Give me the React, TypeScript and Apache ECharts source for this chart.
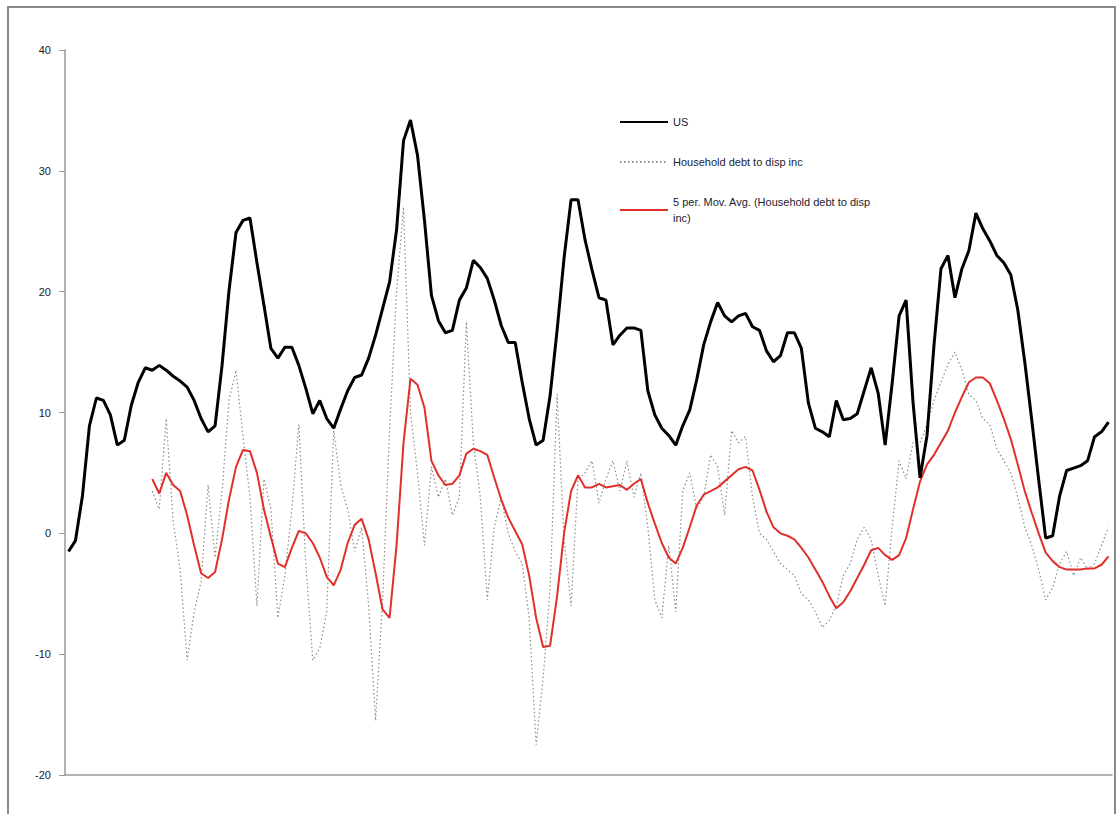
import React, { useEffect, useRef } from "react";
import * as echarts from "echarts";

const usValues: (number | null)[] = [
  -1.5, -0.6, 3.1, 8.9, 11.2, 11.0, 9.8, 7.3, 7.7, 10.6,
  12.5, 13.7, 13.5, 13.9, 13.5, 13.0, 12.6, 12.1, 11.0, 9.5,
  8.4, 8.9, 13.9, 20.1, 24.9, 25.9, 26.1, 22.4, 18.9, 15.3,
  14.5, 15.4, 15.4, 13.9, 12.0, 9.9, 11.0, 9.5, 8.7, 10.3,
  11.8, 12.9, 13.1, 14.5, 16.4, 18.6, 20.8, 25.1, 32.5, 34.2,
  31.3, 25.9, 19.7, 17.6, 16.6, 16.8, 19.3, 20.3, 22.6, 22.0,
  21.1, 19.3, 17.2, 15.8, 15.8, 12.5, 9.5, 7.3, 7.7, 11.4,
  16.8, 22.8, 27.6, 27.6, 24.3, 21.8, 19.5, 19.3, 15.6, 16.4,
  17.0, 17.0, 16.8, 11.8, 9.8, 8.7, 8.1, 7.3, 8.9, 10.2,
  12.7, 15.6, 17.5, 19.1, 18.0, 17.5, 18.0, 18.2, 17.1, 16.8,
  15.1, 14.2, 14.7, 16.6, 16.6, 15.3, 10.8, 8.7, 8.4, 8.0,
  11.0, 9.4, 9.5, 9.9, 11.8, 13.7, 11.6, 7.3, 12.4, 18.0,
  19.3, 10.8, 4.6, 8.1, 15.6, 21.9, 23.0, 19.5, 21.9, 23.4,
  26.5, 25.2, 24.2, 23.0, 22.4, 21.4, 18.5, 14.2, 9.4, 4.4,
  -0.4, -0.2, 3.1, 5.2, 5.4, 5.6, 6.0, 8.0, 8.4, 9.2,
];

const debtValues: (number | null)[] = [
  null, null, null, null, null, null, null, null, null, null,
  null, null, 3.5, 2.0, 9.5, 1.0, -3.0, -10.5, -6.5, -4.0,
  4.0, -2.0, 3.5, 11.0, 13.5, 8.0, 3.0, -6.0, 4.5, 2.0,
  -7.0, -3.5, 2.0, 9.0, -2.5, -10.5, -9.5, -6.5, 8.5, 4.0,
  2.0, -1.5, 0.5, -6.0, -15.5, -5.5, 8.5, 20.0, 27.0, 10.0,
  5.0, -1.0, 5.5, 3.0, 4.5, 1.5, 3.0, 17.5, 7.5, 3.0,
  -5.5, 0.5, 3.0, 0.0, -1.5, -2.5, -7.0, -17.5, -12.0, -4.5,
  11.5, -0.5, -6.0, 4.5, 5.0, 6.0, 2.5, 4.5, 6.0, 3.5,
  6.0, 3.0, 5.0, 0.5, -5.5, -7.0, -1.0, -6.5, 3.5, 5.0,
  2.0, 3.0, 6.5, 5.5, 1.5, 8.5, 7.5, 8.0, 3.0, 0.0,
  -0.5, -1.5, -2.5, -3.0, -3.5, -5.0, -5.5, -6.5, -7.8, -7.2,
  -6.0, -3.5, -2.5, -0.5, 0.5, -0.5, -3.5, -6.0, 0.5, 6.0,
  4.5, 7.5, 7.5, 9.0, 11.0, 12.5, 14.0, 15.0, 13.5, 11.5,
  11.0, 9.5, 9.0, 7.0, 6.0, 5.0, 3.0, 0.5, -1.0, -3.0,
  -5.5, -4.5, -2.5, -1.5, -3.5, -2.0, -3.0, -2.5, -1.0, 0.5,
];

const maValues: (number | null)[] = [
  null, null, null, null, null, null, null, null, null, null,
  null, null, 4.5, 3.3, 5.0, 4.0, 3.5, 1.5, -1.0, -3.3,
  -3.7, -3.2, -0.5, 2.8, 5.5, 6.9, 6.8, 5.0, 2.0, -0.3,
  -2.5, -2.8, -1.2, 0.2, 0.0, -0.8, -2.0, -3.6, -4.3, -3.0,
  -0.8, 0.7, 1.2, -0.5, -3.3, -6.3, -7.0, -1.0, 7.5, 12.8,
  12.3, 10.4, 6.0, 4.8, 4.0, 4.1, 4.8, 6.6, 7.0, 6.8,
  6.5, 4.6, 2.8, 1.3, 0.2, -0.9, -3.5, -7.0, -9.4, -9.3,
  -5.2, 0.0, 3.5, 4.8, 3.8, 3.8, 4.1, 3.8, 3.9, 4.0,
  3.6, 4.1, 4.5, 2.5, 0.8, -0.8, -2.0, -2.5, -1.2, 0.5,
  2.3, 3.2, 3.5, 3.8, 4.3, 4.8, 5.3, 5.5, 5.2, 3.6,
  1.8, 0.5, 0.0, -0.2, -0.5, -1.2, -2.0, -3.0, -4.0, -5.2,
  -6.2, -5.7, -4.8, -3.7, -2.6, -1.4, -1.2, -1.8, -2.2, -1.8,
  -0.4, 2.0, 4.3, 5.7, 6.5, 7.5, 8.5, 10.0, 11.3, 12.5,
  12.9, 12.9, 12.4, 11.0, 9.5, 7.8, 5.7, 3.5, 1.7, 0.0,
  -1.6, -2.3, -2.8, -3.0, -3.0, -3.0, -2.9, -2.9, -2.6, -1.9,
];

const periods: string[] = usValues.map((_, i) => String(i + 1));

const yTicks = { min: -20, max: 40, interval: 10 };

const seriesNames = {
  us: "US",
  debt: "Household debt to disp inc",
  ma: "5 per. Mov. Avg. (Household debt to disp inc)",
};

export default function App() {
  const ref = useRef<HTMLDivElement>(null);

  useEffect(() => {
    if (!ref.current) return;
    const chart = echarts.init(ref.current, undefined, { renderer: "svg" });
    chart.setOption({
      animation: false,
      backgroundColor: "#ffffff",
      textStyle: { fontFamily: "Liberation Sans, Arial, sans-serif" },
      graphic: [
        {
          type: "rect",
          shape: { x: 8, y: 7, width: 1107, height: 830 },
          style: { fill: "none", stroke: "#8a8a8a", lineWidth: 2 },
          silent: true,
        },
      ],
      grid: { left: 65, top: 50, right: 7, bottom: 39, containLabel: false },
      legend: {
        orient: "vertical",
        left: 614,
        top: 109,
        itemWidth: 48,
        itemHeight: 14,
        itemGap: 24,
        selectedMode: false,
        itemStyle: { opacity: 0 },
        data: [seriesNames.us, seriesNames.debt, seriesNames.ma],
        formatter: (name: string) =>
          name === seriesNames.ma ? "5 per. Mov. Avg. (Household debt to disp\ninc)" : name,
        textStyle: {
          fontSize: 11,
          color: "#222233",
          lineHeight: 16,
          fontFamily: "Liberation Sans, Arial, sans-serif",
        },
      },
      xAxis: {
        type: "category",
        data: periods,
        boundaryGap: true,
        axisLine: { show: true, onZero: false, lineStyle: { color: "#9a9a9a", width: 1.5 } },
        axisTick: { show: false },
        axisLabel: { show: false },
        splitLine: { show: false },
      },
      yAxis: {
        type: "value",
        min: yTicks.min,
        max: yTicks.max,
        interval: yTicks.interval,
        axisLine: { show: true, onZero: false, lineStyle: { color: "#9a9a9a", width: 1.5 } },
        axisTick: { show: true, inside: false, length: 6, lineStyle: { color: "#9a9a9a" } },
        axisLabel: {
          fontSize: 11,
          color: "#222222",
          margin: 14,
          fontFamily: "Liberation Sans, Arial, sans-serif",
        },
        splitLine: { show: false },
      },
      series: [
        {
          name: seriesNames.us,
          type: "line",
          data: usValues,
          symbol: "none",
          showSymbol: false,
          lineStyle: { color: "#000000", width: 3 },
          itemStyle: { color: "#000000", opacity: 0 },
          z: 4,
        },
        {
          name: seriesNames.debt,
          type: "line",
          data: debtValues,
          symbol: "none",
          showSymbol: false,
          connectNulls: false,
          lineStyle: { color: "#8c8c8c", width: 1.2, type: [1.5, 2.5] },
          itemStyle: { color: "#8c8c8c", opacity: 0 },
          z: 2,
        },
        {
          name: seriesNames.ma,
          type: "line",
          data: maValues,
          symbol: "none",
          showSymbol: false,
          lineStyle: { color: "#e0302c", width: 2 },
          itemStyle: { color: "#e0302c", opacity: 0 },
          z: 3,
        },
      ],
    });
    return () => chart.dispose();
  }, []);

  return (
    <div
      ref={ref}
      style={{ position: "fixed", left: 0, top: 0, width: 1119, height: 814, background: "#fff" }}
    />
  );
}
